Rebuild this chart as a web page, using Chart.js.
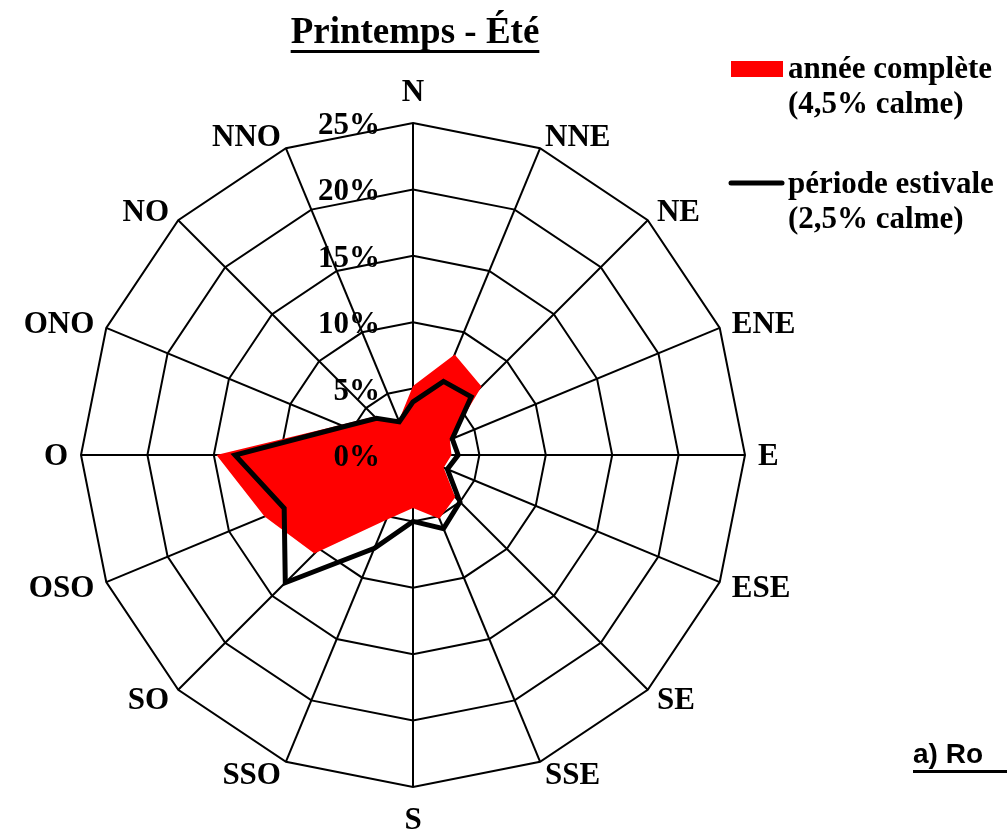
<!DOCTYPE html>
<html>
<head>
<meta charset="utf-8">
<script src="https://cdn.jsdelivr.net/npm/chart.js@4.4.0/dist/chart.umd.min.js"></script>
<style>
  html, body { margin: 0; padding: 0; background: #fff; }
  #wrap { width: 1007px; height: 831px; }
</style>
</head>
<body>
<div id="wrap"><canvas id="rose" width="1007" height="831"></canvas></div>
<script>
// directions, clockwise from north
const directions = ["N", "NNE", "NE", "ENE", "E", "ESE", "SE", "SSE",
                    "S", "SSO", "SO", "OSO", "O", "ONO", "NO", "NNO"];
// frequencies in %
const anneeComplete   = [5.2, 8.2, 7.3, 3.0, 2.9, 2.5, 4.5, 5.2, 4.0, 5.3, 10.5, 12.1, 14.8, 5.9, 4.1, 2.8];
const periodeEstivale = [4.0, 6.0, 6.2, 3.2, 3.4, 2.8, 5.0, 6.0, 5.0, 7.6, 13.6, 10.5, 13.4, 5.6, 3.9, 2.7];
const tickValues = [0, 5, 10, 15, 20, 25];
const legendAnnee = ["année complète", "(4,5% calme)"];
const legendEte = ["période estivale", "(2,5% calme)"];
const titleText = "Printemps - Été";
const captionText = "a) Ro";

const serif = '"Liberation Serif", "Times New Roman", serif';

const decor = {
  id: "decor",
  afterDraw(chart) {
    const ctx = chart.ctx;
    const r = chart.scales.r;
    ctx.save();
    ctx.fillStyle = "#000";
    ctx.textBaseline = "alphabetic";

    // direction labels
    ctx.font = "bold 31px " + serif;
    directions.forEach((lab, i) => {
      const p = r.getPointPosition(i, r.drawingArea + 13);
      const th = p.angle + Math.PI / 2;
      const s = Math.sin(th), c = Math.cos(th);
      let y = p.y + 10;
      if (Math.abs(s) < 0.01) {
        ctx.textAlign = "center";
        y -= c * 19;
      } else {
        ctx.textAlign = s > 0 ? "left" : "right";
      }
      ctx.fillText(lab, p.x, y);
    });

    // % ticks
    ctx.textAlign = "right";
    tickValues.forEach(v => {
      const d = r.getDistanceFromCenterForValue(v);
      ctx.fillText(v + "%", r.xCenter - 33, r.yCenter - d + 11);
    });

    // title
    ctx.font = "bold 37px " + serif;
    ctx.textAlign = "center";
    ctx.fillText(titleText, 415, 43);
    let w = ctx.measureText(titleText).width;
    ctx.fillRect(415 - w / 2, 50, w, 3);

    // legend
    ctx.font = "bold 31px " + serif;
    ctx.textAlign = "left";
    ctx.fillStyle = "#ff0000";
    ctx.fillRect(731, 61, 52, 16);
    ctx.fillStyle = "#000";
    ctx.fillText(legendAnnee[0], 788, 78);
    ctx.fillText(legendAnnee[1], 788, 113);
    ctx.strokeStyle = "#000";
    ctx.lineWidth = 5;
    ctx.lineCap = "round";
    ctx.beginPath();
    ctx.moveTo(731, 183);
    ctx.lineTo(782, 183);
    ctx.stroke();
    ctx.fillText(legendEte[0], 788, 193);
    ctx.fillText(legendEte[1], 788, 228);

    // caption, cut by the right edge
    ctx.font = 'bold 28px "Liberation Sans", Arial, sans-serif';
    ctx.fillText(captionText, 913, 763);
    ctx.fillRect(913, 770, 1007 - 913, 3);
    ctx.restore();
  }
};

new Chart(document.getElementById("rose"), {
  type: "radar",
  data: {
    labels: directions,
    datasets: [
      {
        label: legendAnnee.join(" "),
        data: anneeComplete,
        fill: "origin",
        backgroundColor: "#ff0000",
        borderColor: "rgba(0,0,0,0)",
        borderWidth: 1,
        pointRadius: 0,
        order: 2
      },
      {
        label: legendEte.join(" "),
        data: periodeEstivale,
        fill: false,
        borderColor: "#000",
        borderWidth: 5,
        borderJoinStyle: "miter",
        pointRadius: 0,
        order: 1
      }
    ]
  },
  options: {
    responsive: false,
    animation: false,
    layout: { padding: { left: 81, right: 262, top: 123, bottom: 44 } },
    plugins: { legend: { display: false }, tooltip: { enabled: false } },
    elements: { line: { tension: 0 } },
    scales: {
      r: {
        min: 0,
        max: 25,
        z: 1,
        ticks: { display: false, stepSize: 5 },
        pointLabels: { display: false },
        grid: { circular: false, color: "#000", lineWidth: 2 },
        angleLines: { color: "#000", lineWidth: 2 }
      }
    }
  },
  plugins: [decor]
});
</script>
</body>
</html>
